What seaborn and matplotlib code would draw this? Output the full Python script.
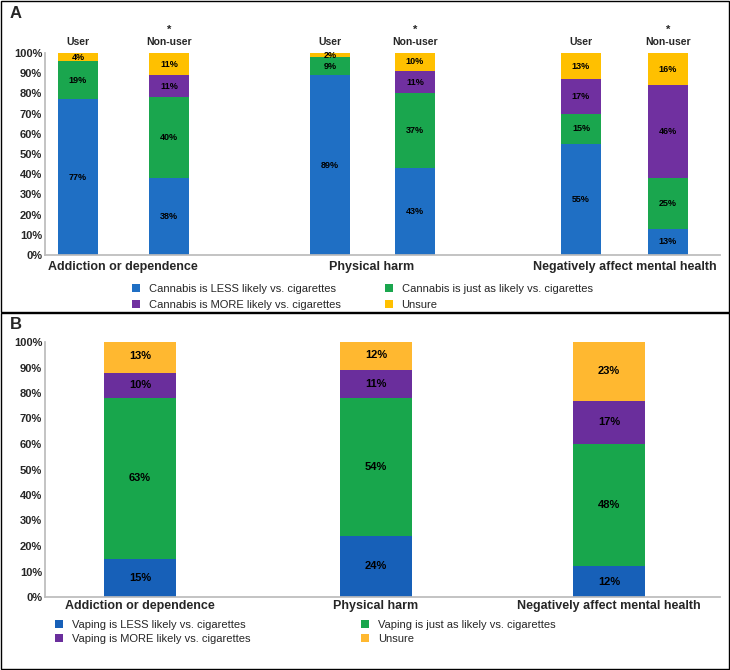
import matplotlib
matplotlib.use("Agg")
import matplotlib.pyplot as plt
import seaborn as sns
import numpy as np
from matplotlib.patches import Rectangle

sns.set_theme(style="white")
plt.rcParams['font.family'] = ['Liberation Sans', 'DejaVu Sans']

# Panel A data
a_groups = ["Addiction or dependence", "Physical harm", "Negatively affect mental health"]
a_bar_labels = ["User", "Non-user"] * 3
a_less = [77, 38, 89, 43, 55, 13]
a_same = [19, 40, 9, 37, 15, 25]
a_more = [0, 11, 0, 11, 17, 46]
a_unsure = [4, 11, 2, 10, 13, 16]
a_series = ["Cannabis is LESS likely vs. cigarettes", "Cannabis is just as likely vs. cigarettes",
            "Cannabis is MORE likely vs. cigarettes", "Unsure"]

# Panel B data
b_groups = ["Addiction or dependence", "Physical harm", "Negatively affect mental health"]
b_less = [15, 24, 12]
b_same = [63, 54, 48]
b_more = [10, 11, 17]
b_unsure = [13, 12, 23]
b_series = ["Vaping is LESS likely vs. cigarettes", "Vaping is just as likely vs. cigarettes",
            "Vaping is MORE likely vs. cigarettes", "Unsure"]

cols_a = ["#1f6fc4", "#1aa64e", "#7030a0", "#ffc000"]
cols_b = ["#1760b8", "#18a64c", "#6a2e9c", "#ffb830"]

fig = plt.figure(figsize=(7.3, 6.7), dpi=100)
W, H = 730, 670
def rect(x0, y0, x1, y1):
    return [x0 / W, 1 - y1 / H, (x1 - x0) / W, (y1 - y0) / H]

for (y0, y1) in [(1, 312), (313, 669)]:
    fig.patches.append(Rectangle(((1) / W, 1 - y1 / H), 728 / W, (y1 - y0) / H,
                                 transform=fig.transFigure, fill=False, ec="black", lw=1))
fig.text(10 / W, 1 - 14 / H, "A", fontsize=12, fontweight="bold", va="center")
fig.text(10 / W, 1 - 325 / H, "B", fontsize=12, fontweight="bold", va="center")

def stack(ax, x, width, data, cols, labels, fs):
    bottom = np.zeros(len(x))
    for vals, c, lab in zip(data, cols, labels):
        vals = np.array(vals, float)
        ax.bar(x, vals, width, bottom=bottom, color=c, label=lab, edgecolor="none")
        for xi, b, v in zip(x, bottom, vals):
            if v > 0:
                ax.text(xi, b + v / 2, f"{int(v)}%", ha="center", va="center",
                        fontsize=fs, fontweight="bold", color="black")
        bottom += vals

def style(ax):
    ax.set_ylim(0, 100)
    ax.set_yticks(range(0, 101, 10))
    ax.set_yticklabels([f"{v}%" for v in range(0, 101, 10)], fontsize=8, fontweight="bold")
    for s in ["top", "right"]:
        ax.spines[s].set_visible(False)
    ax.spines["left"].set_color("#bbbbbb")
    ax.spines["bottom"].set_color("#bbbbbb")
    ax.tick_params(axis="y", length=0, pad=2)

def row_legend(ax, **kw):
    h, l = ax.get_legend_handles_labels()
    order = [0, 2, 1, 3]
    ax.legend([h[i] for i in order], [l[i] for i in order], ncol=2, frameon=False,
              fontsize=8, handlelength=0.7, handleheight=0.7, **kw)

# Panel A
axA = fig.add_axes(rect(45, 53, 720, 255))
xa = np.array([78, 169, 330, 415, 581, 668])
stack(axA, xa, 40, [a_less, a_same, a_more, a_unsure], cols_a, a_series, 6.5)
style(axA)
axA.set_xlim(45, 720)
axA.set_xticks([123, 372, 625])
axA.set_xticklabels(a_groups, fontsize=9, fontweight="bold")
axA.tick_params(axis="x", length=0, pad=4)
for i, (xi, lab) in enumerate(zip(xa, a_bar_labels)):
    axA.text(xi, 103, lab, ha="center", va="bottom", fontsize=7.5, fontweight="bold")
    if lab == "Non-user":
        axA.text(xi, 109, "*", ha="center", va="bottom", fontsize=8, fontweight="bold")
row_legend(axA, loc="upper center", bbox_to_anchor=(0.47, -0.095), columnspacing=4,
           labelspacing=0.5)

# Panel B
axB = fig.add_axes(rect(45, 342, 720, 597))
xb = np.array([140, 376, 609])
stack(axB, xb, 72, [b_less, b_same, b_more, b_unsure], cols_b, b_series, 8)
style(axB)
axB.set_xlim(45, 720)
axB.set_xticks(xb)
axB.set_xticklabels(b_groups, fontsize=9, fontweight="bold")
axB.tick_params(axis="x", length=0, pad=2)
row_legend(axB, loc="upper left", bbox_to_anchor=(0.0, -0.05), columnspacing=10,
           labelspacing=0.4)

fig.savefig("out.png", dpi=100)
